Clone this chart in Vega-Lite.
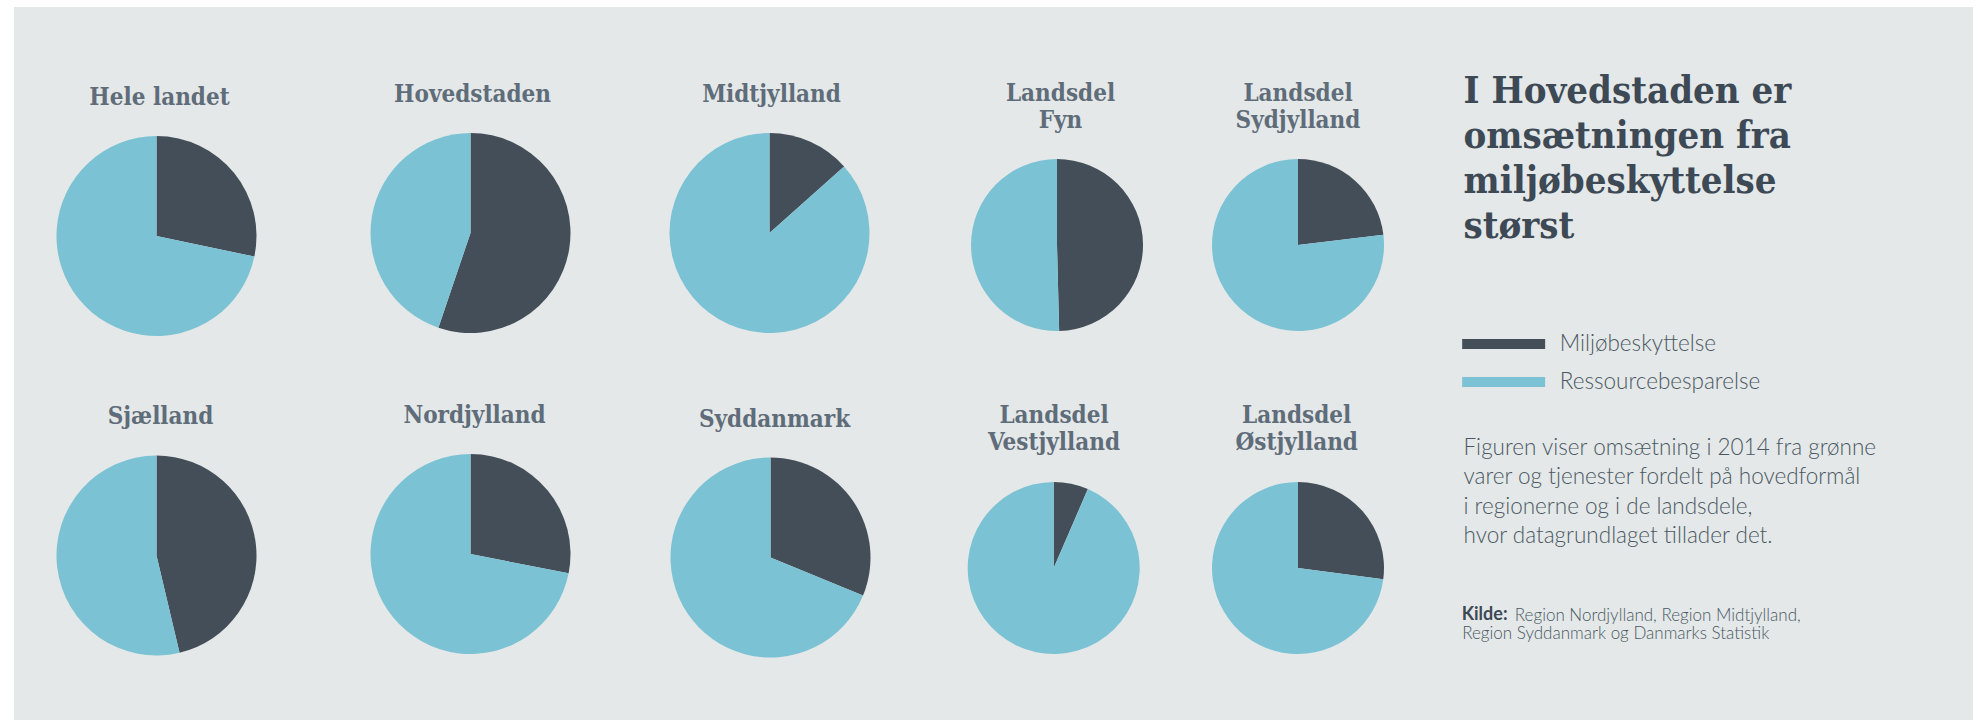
{
  "$schema": "https://vega.github.io/schema/vega-lite/v6.json",
  "background": "white",
  "padding": {"left": 14, "top": 7, "right": 8, "bottom": 0},
  "data": {"values": [
    {"region": "Hele landet", "kategori": "Miljøbeskyttelse", "andel": 28.3},
    {"region": "Hele landet", "kategori": "Ressourcebesparelse", "andel": 71.7},
    {"region": "Hovedstaden", "kategori": "Miljøbeskyttelse", "andel": 55.2},
    {"region": "Hovedstaden", "kategori": "Ressourcebesparelse", "andel": 44.8},
    {"region": "Midtjylland", "kategori": "Miljøbeskyttelse", "andel": 13.4},
    {"region": "Midtjylland", "kategori": "Ressourcebesparelse", "andel": 86.6},
    {"region": "Landsdel Fyn", "kategori": "Miljøbeskyttelse", "andel": 49.6},
    {"region": "Landsdel Fyn", "kategori": "Ressourcebesparelse", "andel": 50.4},
    {"region": "Landsdel Sydjylland", "kategori": "Miljøbeskyttelse", "andel": 23.1},
    {"region": "Landsdel Sydjylland", "kategori": "Ressourcebesparelse", "andel": 76.9},
    {"region": "Sjælland", "kategori": "Miljøbeskyttelse", "andel": 46.3},
    {"region": "Sjælland", "kategori": "Ressourcebesparelse", "andel": 53.7},
    {"region": "Nordjylland", "kategori": "Miljøbeskyttelse", "andel": 28.1},
    {"region": "Nordjylland", "kategori": "Ressourcebesparelse", "andel": 71.9},
    {"region": "Syddanmark", "kategori": "Miljøbeskyttelse", "andel": 31.2},
    {"region": "Syddanmark", "kategori": "Ressourcebesparelse", "andel": 68.8},
    {"region": "Landsdel Vestjylland", "kategori": "Miljøbeskyttelse", "andel": 6.5},
    {"region": "Landsdel Vestjylland", "kategori": "Ressourcebesparelse", "andel": 93.5},
    {"region": "Landsdel Østjylland", "kategori": "Miljøbeskyttelse", "andel": 27.1},
    {"region": "Landsdel Østjylland", "kategori": "Ressourcebesparelse", "andel": 72.9}
  ]},
  "spacing": 0,
  "bounds": "full",
  "hconcat": [
    {
      "spacing": 0,
      "bounds": "full",
      "vconcat": [
        {
          "spacing": 0,
          "bounds": "flush",
          "hconcat": [
            {
              "width": 285, "height": 388,
              "view": {"fill": "#e4e8e8", "stroke": null},
              "title": {"text": "Hele landet", "offset": -103, "dx": 3},
              "transform": [{"filter": "datum.region === 'Hele landet'"}],
              "mark": {"type": "arc", "outerRadius": 100, "yOffset": 35},
              "encoding": {
                "theta": {"field": "andel", "type": "quantitative", "stack": true},
                "color": {"field": "kategori", "type": "nominal", "scale": {"domain": ["Miljøbeskyttelse", "Ressourcebesparelse"], "range": ["#444e59", "#7bc2d4"]}, "title": null}
              }
            },
            {
              "width": 343, "height": 388,
              "view": {"fill": "#e4e8e8", "stroke": null},
              "title": {"text": "Hovedstaden", "offset": -99.7, "dx": 2},
              "transform": [{"filter": "datum.region === 'Hovedstaden'"}],
              "mark": {"type": "arc", "outerRadius": 100, "yOffset": 32},
              "encoding": {
                "theta": {"field": "andel", "type": "quantitative", "stack": true},
                "color": {"field": "kategori", "type": "nominal", "title": null}
              }
            },
            {
              "width": 255, "height": 388,
              "view": {"fill": "#e4e8e8", "stroke": null},
              "title": {"text": "Midtjylland", "offset": -99.7, "dx": 2},
              "transform": [{"filter": "datum.region === 'Midtjylland'"}],
              "mark": {"type": "arc", "outerRadius": 100, "yOffset": 32},
              "encoding": {
                "theta": {"field": "andel", "type": "quantitative", "stack": true},
                "color": {"field": "kategori", "type": "nominal", "title": null}
              }
            },
            {
              "width": 315, "height": 388,
              "view": {"fill": "#e4e8e8", "stroke": null},
              "title": {"text": ["Landsdel", "Fyn"], "offset": -125.7, "dx": 6},
              "transform": [{"filter": "datum.region === 'Landsdel Fyn'"}],
              "mark": {"type": "arc", "outerRadius": 86, "yOffset": 44, "xOffset": 2.5},
              "encoding": {
                "theta": {"field": "andel", "type": "quantitative", "stack": true},
                "color": {"field": "kategori", "type": "nominal", "title": null}
              }
            },
            {
              "width": 172, "height": 388,
              "view": {"fill": "#e4e8e8", "stroke": null},
              "title": {"text": ["Landsdel", "Sydjylland"], "offset": -125.7},
              "transform": [{"filter": "datum.region === 'Landsdel Sydjylland'"}],
              "mark": {"type": "arc", "outerRadius": 86, "yOffset": 44},
              "encoding": {
                "theta": {"field": "andel", "type": "quantitative", "stack": true},
                "color": {"field": "kategori", "type": "nominal", "title": null}
              }
            }
          ]
        },
        {
          "spacing": 0,
          "bounds": "flush",
          "hconcat": [
            {
              "width": 285, "height": 325,
              "view": {"fill": "#e4e8e8", "stroke": null},
              "title": {"text": "Sjælland", "offset": -34.3, "dx": 4},
              "transform": [{"filter": "datum.region === 'Sjælland'"}],
              "mark": {"type": "arc", "outerRadius": 100, "yOffset": -2},
              "encoding": {
                "theta": {"field": "andel", "type": "quantitative", "stack": true},
                "color": {"field": "kategori", "type": "nominal", "title": null}
              }
            },
            {
              "width": 343, "height": 325,
              "view": {"fill": "#e4e8e8", "stroke": null},
              "title": {"text": "Nordjylland", "offset": -32.7, "dx": 4},
              "transform": [{"filter": "datum.region === 'Nordjylland'"}],
              "mark": {"type": "arc", "outerRadius": 100, "yOffset": -3.5},
              "encoding": {
                "theta": {"field": "andel", "type": "quantitative", "stack": true},
                "color": {"field": "kategori", "type": "nominal", "title": null}
              }
            },
            {
              "width": 255, "height": 325,
              "view": {"fill": "#e4e8e8", "stroke": null},
              "title": {"text": "Syddanmark", "offset": -36.7, "dx": 5},
              "transform": [{"filter": "datum.region === 'Syddanmark'"}],
              "mark": {"type": "arc", "outerRadius": 100, "yOffset": 0, "xOffset": 1},
              "encoding": {
                "theta": {"field": "andel", "type": "quantitative", "stack": true},
                "color": {"field": "kategori", "type": "nominal", "title": null}
              }
            },
            {
              "width": 315, "height": 325,
              "view": {"fill": "#e4e8e8", "stroke": null},
              "title": {"text": ["Landsdel", "Vestjylland"], "offset": -59.7, "dx": -0.5},
              "transform": [{"filter": "datum.region === 'Landsdel Vestjylland'"}],
              "mark": {"type": "arc", "outerRadius": 86, "yOffset": 10.5, "xOffset": -0.8},
              "encoding": {
                "theta": {"field": "andel", "type": "quantitative", "stack": true},
                "color": {"field": "kategori", "type": "nominal", "title": null}
              }
            },
            {
              "width": 172, "height": 325,
              "view": {"fill": "#e4e8e8", "stroke": null},
              "title": {"text": ["Landsdel", "Østjylland"], "offset": -59.7, "dx": -1.3},
              "transform": [{"filter": "datum.region === 'Landsdel Østjylland'"}],
              "mark": {"type": "arc", "outerRadius": 86, "yOffset": 10.5},
              "encoding": {
                "theta": {"field": "andel", "type": "quantitative", "stack": true},
                "color": {"field": "kategori", "type": "nominal", "title": null}
              }
            }
          ]
        }
      ]
    },
    {
      "spacing": 0,
      "bounds": "flush",
      "vconcat": [
        {
          "width": 589, "height": 393,
          "view": {"fill": "#e4e8e8", "stroke": null},
          "data": {"values": []},
          "mark": "point",
          "title": {
            "text": ["I Hovedstaden er", "omsætningen fra", "miljøbeskyttelse", "størst"],
            "anchor": "start", "dx": 79.5, "offset": -238.7,
            "fontSize": 38, "lineHeight": 44.8, "color": "#3d4955"
          }
        },
        {
          "width": 589, "height": 185,
          "view": {"fill": "#e4e8e8", "stroke": null},
          "data": {"values": []},
          "mark": "point",
          "title": {
            "text": ["Figuren viser omsætning i 2014 fra grønne", "varer og tjenester fordelt på hovedformål", "i regionerne og i de landsdele,", "hvor datagrundlaget tillader det."],
            "anchor": "start", "dx": 79.5, "offset": -147.3,
            "font": "Lato", "fontWeight": 300, "fontSize": 22.5, "lineHeight": 29.2, "color": "#4b5864"
          }
        },
        {
          "width": 589, "height": 135,
          "view": {"fill": "#e4e8e8", "stroke": null},
          "data": {"values": []},
          "mark": "point",
          "title": {
            "text": "Kilde:",
            "anchor": "start", "dx": 77.7, "offset": -38.8,
            "font": "Lato", "fontWeight": "bold", "fontSize": 18, "color": "#3d4955"
          },
          "encoding": {
            "x": {"field": "a", "type": "quantitative", "scale": {"domain": [0, 1]},
              "axis": {"orient": "top", "title": "Region Nordjylland, Region Midtjylland,", "titleX": 130.3, "titleY": 35,
                "titleAlign": "left", "titleAnchor": "start", "titleBaseline": "alphabetic", "titleAngle": 0,
                "titleFont": "Lato", "titleFontWeight": 300, "titleFontSize": 17, "titleColor": "#4b5864",
                "domain": false, "ticks": false, "labels": false, "grid": false}},
            "y": {"field": "b", "type": "quantitative", "scale": {"domain": [0, 1]},
              "axis": {"orient": "left", "title": "Region Syddanmark og Danmarks Statistik", "titleX": 77.7, "titleY": 53.3,
                "titleAlign": "left", "titleAnchor": "start", "titleBaseline": "alphabetic", "titleAngle": 0,
                "titleFont": "Lato", "titleFontWeight": 300, "titleFontSize": 17, "titleColor": "#4b5864",
                "domain": false, "ticks": false, "labels": false, "grid": false}}
          }
        }
      ]
    }
  ],
  "config": {
    "view": {"fill": "#e4e8e8", "stroke": null},
    "style": {"cell": {"fill": "#e4e8e8", "stroke": null}},
    "title": {
      "font": "DejaVu Serif Condensed, DejaVu Serif",
      "fontWeight": "bold",
      "fontSize": 24,
      "color": "#5f6c79",
      "anchor": "middle",
      "frame": "group",
      "baseline": "alphabetic",
      "lineHeight": 27
    },
    "legend": {
      "orient": "none",
      "legendX": 1478.4,
      "legendY": 325.8,
      "padding": 0,
      "symbolType": "M-4,-0.48H4V0.48H-4Z",
      "symbolSize": 430,
      "symbolStrokeWidth": 0,
      "labelFont": "Lato",
      "labelFontWeight": 300,
      "labelFontSize": 22.5,
      "labelLimit": 400,
      "labelColor": "#4b5864",
      "labelOffset": 44.8,
      "rowPadding": 15
    }
  }
}
